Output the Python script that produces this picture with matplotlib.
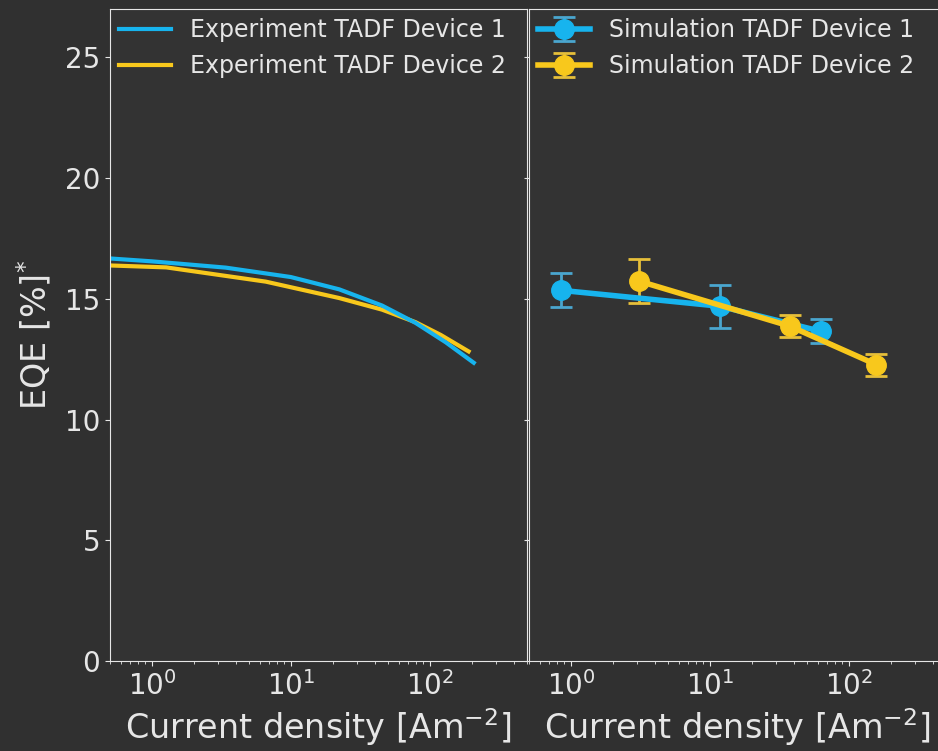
import matplotlib
matplotlib.use("Agg")
import matplotlib.pyplot as plt
import numpy as np

# experiment curves (current density in A/m^2, EQE in %)
exp_j_dev1 = [0.5, 1.0, 3.4, 10.0, 22.3, 45.3, 79.0, 130.0, 207.0]
exp_eqe_dev1 = [16.67, 16.55, 16.29, 15.9, 15.39, 14.72, 14.0, 13.2, 12.35]
exp_j_dev2 = [0.5, 1.27, 6.6, 22.3, 45.3, 79.0, 120.0, 190.0]
exp_eqe_dev2 = [16.38, 16.3, 15.71, 15.03, 14.55, 14.03, 13.5, 12.82]

# simulation points with error bars
sim_j_dev1 = [0.85, 11.9, 63.0]
sim_eqe_dev1 = [15.35, 14.69, 13.65]
sim_err_dev1 = [0.7, 0.9, 0.5]
sim_j_dev2 = [3.1, 37.5, 158.0]
sim_eqe_dev2 = [15.73, 13.87, 12.27]
sim_err_dev2 = [0.9, 0.46, 0.45]

bg = "#333333"
fg = "#e6e6e6"
blue = "#17b4ee"
yellow = "#f8c81c"

plt.rcParams["font.family"] = "DejaVu Sans"
fig = plt.figure(figsize=(9.38, 7.51), dpi=100, facecolor="#303030")
ax1 = fig.add_axes([110 / 938, 90 / 751, 417 / 938, 652 / 751])
ax2 = fig.add_axes([529 / 938, 90 / 751, 417 / 938, 652 / 751])

ax1.plot(exp_j_dev2, exp_eqe_dev2, color=yellow, lw=3, label="Experiment TADF Device 2")
ax1.plot(exp_j_dev1, exp_eqe_dev1, color=blue, lw=3, label="Experiment TADF Device 1")

ax2.errorbar(sim_j_dev1, sim_eqe_dev1, yerr=sim_err_dev1, color=blue, ecolor="#4aa6cf",
             lw=4, marker="o", ms=14, capsize=8, elinewidth=2, capthick=2,
             label="Simulation TADF Device 1")
ax2.errorbar(sim_j_dev2, sim_eqe_dev2, yerr=sim_err_dev2, color=yellow, ecolor="#e6bf3a",
             lw=4, marker="o", ms=14, capsize=8, elinewidth=2, capthick=2,
             label="Simulation TADF Device 2")

for ax in (ax1, ax2):
    ax.set_facecolor(bg)
    ax.set_xscale("log")
    ax.set_xlim(0.5, 500)
    ax.set_ylim(0, 27)
    ax.set_yticks([0, 5, 10, 15, 20, 25])
    ax.tick_params(colors=fg, labelsize=20, which="both")
    for s in ax.spines.values():
        s.set_color(fg)
    ax.set_xlabel("Current density [Am$^{-2}$]", color=fg, fontsize=24, labelpad=4)
    handles, labels = ax.get_legend_handles_labels()
    if ax is ax1:
        handles, labels = handles[::-1], labels[::-1]
    leg = ax.legend(handles, labels, loc="upper left", fontsize=17, frameon=False,
                    handlelength=2.2, handletextpad=0.8, borderaxespad=0.0,
                    labelspacing=0.5)
    for t in leg.get_texts():
        t.set_color(fg)

ax2.tick_params(labelleft=False)
ax1.set_ylabel("EQE [%]$^{*}$", color=fg, fontsize=24, labelpad=8)

fig.savefig("out.png", dpi=100, facecolor=fig.get_facecolor())
